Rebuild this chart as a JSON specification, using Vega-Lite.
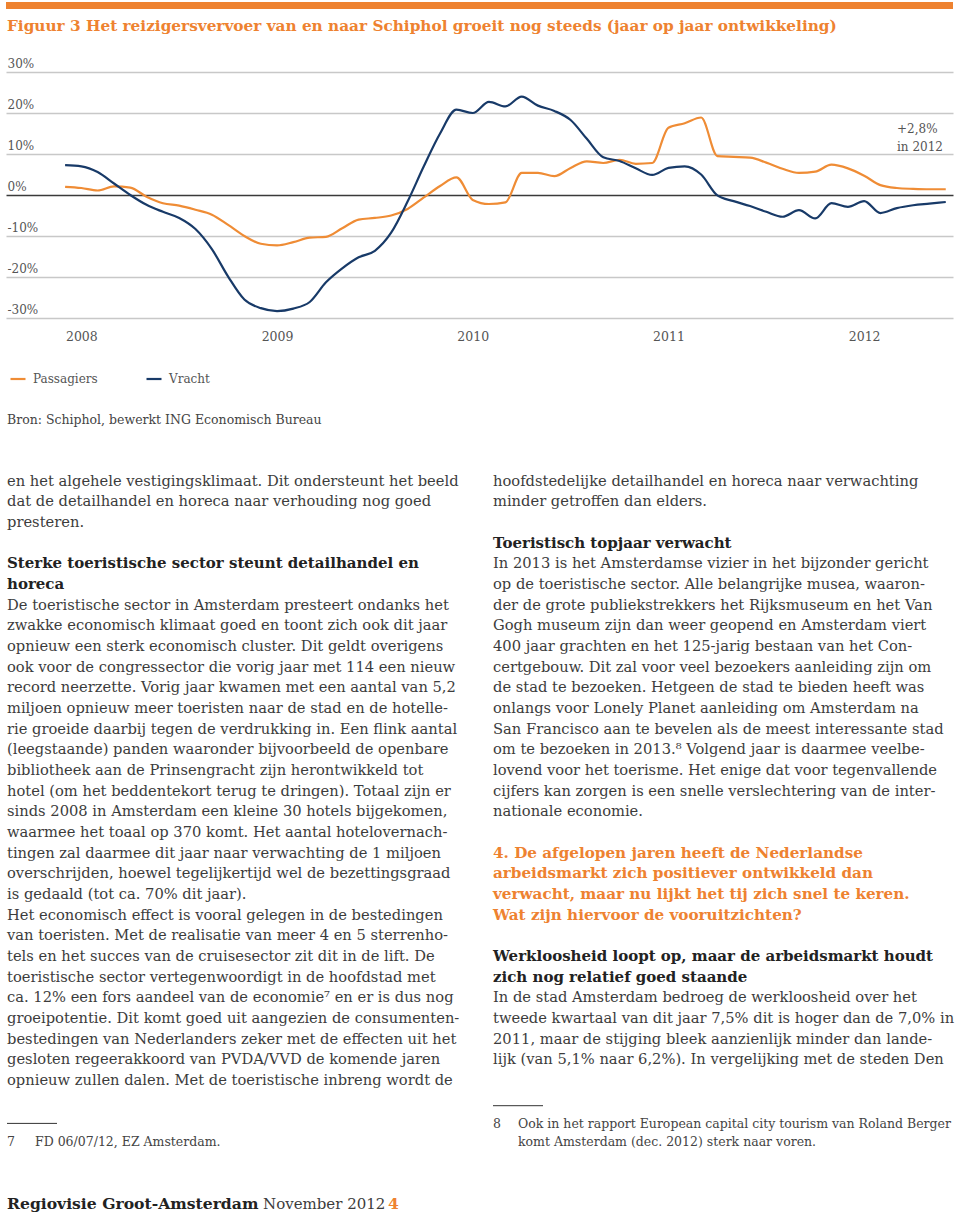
{
  "$schema": "https://vega.github.io/schema/vega-lite/v6.json",
  "width": 960,
  "height": 1215,
  "autosize": {"type": "none"},
  "padding": 0,
  "background": "white",
  "config": {"view": {"stroke": null}, "font": "DejaVu Serif"},
  "resolve": {"scale": {"x": "independent", "y": "independent", "color": "independent"}},
  "layer": [
    {
      "layer": [
        {
          "data": {"values": [
            {"t": 2007.917, "series": "Passagiers", "v": 2.0}, {"t": 2008.000, "series": "Passagiers", "v": 1.7},
            {"t": 2008.083, "series": "Passagiers", "v": 1.1}, {"t": 2008.167, "series": "Passagiers", "v": 2.1},
            {"t": 2008.250, "series": "Passagiers", "v": 1.8}, {"t": 2008.333, "series": "Passagiers", "v": -0.4},
            {"t": 2008.417, "series": "Passagiers", "v": -2.0}, {"t": 2008.500, "series": "Passagiers", "v": -2.6},
            {"t": 2008.583, "series": "Passagiers", "v": -3.6}, {"t": 2008.667, "series": "Passagiers", "v": -4.8},
            {"t": 2008.750, "series": "Passagiers", "v": -7.3}, {"t": 2008.833, "series": "Passagiers", "v": -10.0},
            {"t": 2008.917, "series": "Passagiers", "v": -11.9}, {"t": 2009.000, "series": "Passagiers", "v": -12.3},
            {"t": 2009.083, "series": "Passagiers", "v": -11.5}, {"t": 2009.167, "series": "Passagiers", "v": -10.4},
            {"t": 2009.250, "series": "Passagiers", "v": -10.2}, {"t": 2009.333, "series": "Passagiers", "v": -8.1},
            {"t": 2009.417, "series": "Passagiers", "v": -6.0}, {"t": 2009.500, "series": "Passagiers", "v": -5.6},
            {"t": 2009.583, "series": "Passagiers", "v": -5.0}, {"t": 2009.667, "series": "Passagiers", "v": -3.4},
            {"t": 2009.750, "series": "Passagiers", "v": -0.6}, {"t": 2009.833, "series": "Passagiers", "v": 2.2},
            {"t": 2009.917, "series": "Passagiers", "v": 4.3}, {"t": 2010.000, "series": "Passagiers", "v": -1.2},
            {"t": 2010.083, "series": "Passagiers", "v": -2.2}, {"t": 2010.167, "series": "Passagiers", "v": -1.8},
            {"t": 2010.250, "series": "Passagiers", "v": 5.4}, {"t": 2010.333, "series": "Passagiers", "v": 5.4},
            {"t": 2010.417, "series": "Passagiers", "v": 4.6}, {"t": 2010.500, "series": "Passagiers", "v": 6.6},
            {"t": 2010.583, "series": "Passagiers", "v": 8.2}, {"t": 2010.667, "series": "Passagiers", "v": 7.8},
            {"t": 2010.750, "series": "Passagiers", "v": 8.6}, {"t": 2010.833, "series": "Passagiers", "v": 7.6},
            {"t": 2010.917, "series": "Passagiers", "v": 7.8}, {"t": 2011.000, "series": "Passagiers", "v": 16.4},
            {"t": 2011.083, "series": "Passagiers", "v": 17.5}, {"t": 2011.167, "series": "Passagiers", "v": 18.9},
            {"t": 2011.250, "series": "Passagiers", "v": 9.5}, {"t": 2011.333, "series": "Passagiers", "v": 9.3},
            {"t": 2011.417, "series": "Passagiers", "v": 9.1}, {"t": 2011.500, "series": "Passagiers", "v": 7.9},
            {"t": 2011.583, "series": "Passagiers", "v": 6.4}, {"t": 2011.667, "series": "Passagiers", "v": 5.4},
            {"t": 2011.750, "series": "Passagiers", "v": 5.7}, {"t": 2011.833, "series": "Passagiers", "v": 7.4},
            {"t": 2011.917, "series": "Passagiers", "v": 6.5}, {"t": 2012.000, "series": "Passagiers", "v": 4.7},
            {"t": 2012.083, "series": "Passagiers", "v": 2.4}, {"t": 2012.167, "series": "Passagiers", "v": 1.7},
            {"t": 2012.250, "series": "Passagiers", "v": 1.5}, {"t": 2012.333, "series": "Passagiers", "v": 1.4},
            {"t": 2012.417, "series": "Passagiers", "v": 1.4},
            {"t": 2007.917, "series": "Vracht", "v": 7.3}, {"t": 2008.000, "series": "Vracht", "v": 7.0},
            {"t": 2008.083, "series": "Vracht", "v": 5.6}, {"t": 2008.167, "series": "Vracht", "v": 2.8},
            {"t": 2008.250, "series": "Vracht", "v": 0.0}, {"t": 2008.333, "series": "Vracht", "v": -2.4},
            {"t": 2008.417, "series": "Vracht", "v": -4.1}, {"t": 2008.500, "series": "Vracht", "v": -5.6},
            {"t": 2008.583, "series": "Vracht", "v": -8.3}, {"t": 2008.667, "series": "Vracht", "v": -13.2},
            {"t": 2008.750, "series": "Vracht", "v": -19.9}, {"t": 2008.833, "series": "Vracht", "v": -25.5},
            {"t": 2008.917, "series": "Vracht", "v": -27.6}, {"t": 2009.000, "series": "Vracht", "v": -28.3},
            {"t": 2009.083, "series": "Vracht", "v": -27.7}, {"t": 2009.167, "series": "Vracht", "v": -26.1},
            {"t": 2009.250, "series": "Vracht", "v": -21.3}, {"t": 2009.333, "series": "Vracht", "v": -17.9},
            {"t": 2009.417, "series": "Vracht", "v": -15.2}, {"t": 2009.500, "series": "Vracht", "v": -13.6},
            {"t": 2009.583, "series": "Vracht", "v": -9.2}, {"t": 2009.667, "series": "Vracht", "v": -1.6},
            {"t": 2009.750, "series": "Vracht", "v": 7.0}, {"t": 2009.833, "series": "Vracht", "v": 15.0},
            {"t": 2009.917, "series": "Vracht", "v": 20.8}, {"t": 2010.000, "series": "Vracht", "v": 20.0},
            {"t": 2010.083, "series": "Vracht", "v": 22.7}, {"t": 2010.167, "series": "Vracht", "v": 21.6},
            {"t": 2010.250, "series": "Vracht", "v": 24.0}, {"t": 2010.333, "series": "Vracht", "v": 21.8},
            {"t": 2010.417, "series": "Vracht", "v": 20.5}, {"t": 2010.500, "series": "Vracht", "v": 18.3},
            {"t": 2010.583, "series": "Vracht", "v": 13.7}, {"t": 2010.667, "series": "Vracht", "v": 9.2},
            {"t": 2010.750, "series": "Vracht", "v": 8.3}, {"t": 2010.833, "series": "Vracht", "v": 6.5},
            {"t": 2010.917, "series": "Vracht", "v": 4.9}, {"t": 2011.000, "series": "Vracht", "v": 6.6},
            {"t": 2011.083, "series": "Vracht", "v": 7.0}, {"t": 2011.167, "series": "Vracht", "v": 5.0},
            {"t": 2011.250, "series": "Vracht", "v": -0.1}, {"t": 2011.333, "series": "Vracht", "v": -1.5},
            {"t": 2011.417, "series": "Vracht", "v": -2.7}, {"t": 2011.500, "series": "Vracht", "v": -4.1},
            {"t": 2011.583, "series": "Vracht", "v": -5.3}, {"t": 2011.667, "series": "Vracht", "v": -3.7},
            {"t": 2011.750, "series": "Vracht", "v": -5.7}, {"t": 2011.833, "series": "Vracht", "v": -2.0},
            {"t": 2011.917, "series": "Vracht", "v": -2.9}, {"t": 2012.000, "series": "Vracht", "v": -1.5},
            {"t": 2012.083, "series": "Vracht", "v": -4.4}, {"t": 2012.167, "series": "Vracht", "v": -3.2},
            {"t": 2012.250, "series": "Vracht", "v": -2.5}, {"t": 2012.333, "series": "Vracht", "v": -2.1},
            {"t": 2012.417, "series": "Vracht", "v": -1.7}
          ]},
          "mark": {"type": "line", "interpolate": "monotone", "strokeWidth": 2.2},
          "encoding": {
            "x": {"field": "t", "type": "quantitative",
              "scale": {"domain": [2007.615, 2012.454], "range": [6, 953], "nice": false, "zero": false},
              "axis": {"values": [2008, 2009, 2010, 2011, 2012], "format": "d", "orient": "bottom", "offset": -897,
                "domain": false, "ticks": false, "tickSize": 0, "grid": false, "labelPadding": 22,
                "labelBaseline": "alphabetic", "labelFont": "DejaVu Serif", "labelFontSize": 12.5,
                "labelColor": "#555555", "labelFlush": false, "labelOverlap": false, "title": null}},
            "y": {"field": "v", "type": "quantitative",
              "scale": {"domain": [-30, 30], "range": [318, 72], "nice": false, "zero": false},
              "axis": {"values": [-30, -20, -10, 0, 10, 20, 30], "orient": "left", "domain": false, "ticks": false,
                "tickSize": 0, "grid": true,
                "gridColor": {"condition": {"test": "datum.value === 0", "value": "#3a3a3a"}, "value": "#c8c8c8"},
                "gridWidth": 1.3, "labelAlign": "left", "labelBaseline": "alphabetic", "labelPadding": -7,
                "labelOffset": -5, "labelExpr": "datum.value + '%'", "labelFont": "DejaVu Serif", "labelFontSize": 12,
                "labelColor": "#555555", "labelOverlap": false, "labelFlush": false, "title": null}},
            "color": {"field": "series", "type": "nominal",
              "scale": {"domain": ["Passagiers", "Vracht"], "range": ["#EF8C35", "#183A68"]},
              "legend": {"orient": "none", "legendX": 9, "legendY": 370, "direction": "horizontal",
                "symbolType": "stroke", "symbolSize": 225, "symbolStrokeWidth": 2.2, "labelFont": "DejaVu Serif",
                "labelFontSize": 12, "labelColor": "#555555", "labelOffset": 6, "columnPadding": 44,
                "title": null, "padding": 0}}
          }
        },
        {
          "data": {"values": [{"t": 2012.168, "v": 15.2, "label": "+2,8%\nin 2012"}]},
          "mark": {"type": "text", "align": "left", "baseline": "alphabetic", "lineBreak": "\n", "lineHeight": 18,
            "fontSize": 12, "font": "DejaVu Serif", "color": "#555555"},
          "encoding": {
            "x": {"field": "t", "type": "quantitative"},
            "y": {"field": "v", "type": "quantitative"},
            "text": {"field": "label"}
          }
        }
      ]
    },
    {
      "data": {"values": [
        {"kind": "bar", "col": "left", "col2": "right", "line": -19, "text": ""},
        {"kind": "title", "col": "left", "line": -18, "text": "Figuur 3 Het reizigersvervoer van en naar Schiphol groeit nog steeds (jaar op jaar ontwikkeling)"},
        {"kind": "source", "col": "left", "line": 1, "text": "Bron: Schiphol, bewerkt ING Economisch Bureau"},
        {"kind": "body", "col": "left", "line": 4, "text": "en het algehele vestigingsklimaat. Dit ondersteunt het beeld"},
        {"kind": "body", "col": "left", "line": 5, "text": "dat de detailhandel en horeca naar verhouding nog goed"},
        {"kind": "body", "col": "left", "line": 6, "text": "presteren."},
        {"kind": "heading", "col": "left", "line": 8, "text": "Sterke toeristische sector steunt detailhandel en"},
        {"kind": "heading", "col": "left", "line": 9, "text": "horeca"},
        {"kind": "body", "col": "left", "line": 10, "text": "De toeristische sector in Amsterdam presteert ondanks het"},
        {"kind": "body", "col": "left", "line": 11, "text": "zwakke economisch klimaat goed en toont zich ook dit jaar"},
        {"kind": "body", "col": "left", "line": 12, "text": "opnieuw een sterk economisch cluster. Dit geldt overigens"},
        {"kind": "body", "col": "left", "line": 13, "text": "ook voor de congressector die vorig jaar met 114 een nieuw"},
        {"kind": "body", "col": "left", "line": 14, "text": "record neerzette. Vorig jaar kwamen met een aantal van 5,2"},
        {"kind": "body", "col": "left", "line": 15, "text": "miljoen opnieuw meer toeristen naar de stad en de hotelle-"},
        {"kind": "body", "col": "left", "line": 16, "text": "rie groeide daarbij tegen de verdrukking in. Een flink aantal"},
        {"kind": "body", "col": "left", "line": 17, "text": "(leegstaande) panden waaronder bijvoorbeeld de openbare"},
        {"kind": "body", "col": "left", "line": 18, "text": "bibliotheek aan de Prinsengracht zijn herontwikkeld tot"},
        {"kind": "body", "col": "left", "line": 19, "text": "hotel (om het beddentekort terug te dringen). Totaal zijn er"},
        {"kind": "body", "col": "left", "line": 20, "text": "sinds 2008 in Amsterdam een kleine 30 hotels bijgekomen,"},
        {"kind": "body", "col": "left", "line": 21, "text": "waarmee het toaal op 370 komt. Het aantal hotelovernach-"},
        {"kind": "body", "col": "left", "line": 22, "text": "tingen zal daarmee dit jaar naar verwachting de 1 miljoen"},
        {"kind": "body", "col": "left", "line": 23, "text": "overschrijden, hoewel tegelijkertijd wel de bezettingsgraad"},
        {"kind": "body", "col": "left", "line": 24, "text": "is gedaald (tot ca. 70% dit jaar)."},
        {"kind": "body", "col": "left", "line": 25, "text": "Het economisch effect is vooral gelegen in de bestedingen"},
        {"kind": "body", "col": "left", "line": 26, "text": "van toeristen. Met de realisatie van meer 4 en 5 sterrenho-"},
        {"kind": "body", "col": "left", "line": 27, "text": "tels en het succes van de cruisesector zit dit in de lift. De"},
        {"kind": "body", "col": "left", "line": 28, "text": "toeristische sector vertegenwoordigt in de hoofdstad met"},
        {"kind": "body", "col": "left", "line": 29, "text": "ca. 12% een fors aandeel van de economie⁷ en er is dus nog"},
        {"kind": "body", "col": "left", "line": 30, "text": "groeipotentie. Dit komt goed uit aangezien de consumenten-"},
        {"kind": "body", "col": "left", "line": 31, "text": "bestedingen van Nederlanders zeker met de effecten uit het"},
        {"kind": "body", "col": "left", "line": 32, "text": "gesloten regeerakkoord van PVDA/VVD de komende jaren"},
        {"kind": "body", "col": "left", "line": 33, "text": "opnieuw zullen dalen. Met de toeristische inbreng wordt de"},
        {"kind": "body", "col": "right", "line": 4, "text": "hoofdstedelijke detailhandel en horeca naar verwachting"},
        {"kind": "body", "col": "right", "line": 5, "text": "minder getroffen dan elders."},
        {"kind": "heading", "col": "right", "line": 7, "text": "Toeristisch topjaar verwacht"},
        {"kind": "body", "col": "right", "line": 8, "text": "In 2013 is het Amsterdamse vizier in het bijzonder gericht"},
        {"kind": "body", "col": "right", "line": 9, "text": "op de toeristische sector. Alle belangrijke musea, waaron-"},
        {"kind": "body", "col": "right", "line": 10, "text": "der de grote publiekstrekkers het Rijksmuseum en het Van"},
        {"kind": "body", "col": "right", "line": 11, "text": "Gogh museum zijn dan weer geopend en Amsterdam viert"},
        {"kind": "body", "col": "right", "line": 12, "text": "400 jaar grachten en het 125-jarig bestaan van het Con-"},
        {"kind": "body", "col": "right", "line": 13, "text": "certgebouw. Dit zal voor veel bezoekers aanleiding zijn om"},
        {"kind": "body", "col": "right", "line": 14, "text": "de stad te bezoeken. Hetgeen de stad te bieden heeft was"},
        {"kind": "body", "col": "right", "line": 15, "text": "onlangs voor Lonely Planet aanleiding om Amsterdam na"},
        {"kind": "body", "col": "right", "line": 16, "text": "San Francisco aan te bevelen als de meest interessante stad"},
        {"kind": "body", "col": "right", "line": 17, "text": "om te bezoeken in 2013.⁸ Volgend jaar is daarmee veelbe-"},
        {"kind": "body", "col": "right", "line": 18, "text": "lovend voor het toerisme. Het enige dat voor tegenvallende"},
        {"kind": "body", "col": "right", "line": 19, "text": "cijfers kan zorgen is een snelle verslechtering van de inter-"},
        {"kind": "body", "col": "right", "line": 20, "text": "nationale economie."},
        {"kind": "question", "col": "right", "line": 22, "text": "4. De afgelopen jaren heeft de Nederlandse"},
        {"kind": "question", "col": "right", "line": 23, "text": "arbeidsmarkt zich positiever ontwikkeld dan"},
        {"kind": "question", "col": "right", "line": 24, "text": "verwacht, maar nu lijkt het tij zich snel te keren."},
        {"kind": "question", "col": "right", "line": 25, "text": "Wat zijn hiervoor de vooruitzichten?"},
        {"kind": "heading", "col": "right", "line": 27, "text": "Werkloosheid loopt op, maar de arbeidsmarkt houdt"},
        {"kind": "heading", "col": "right", "line": 28, "text": "zich nog relatief goed staande"},
        {"kind": "body", "col": "right", "line": 29, "text": "In de stad Amsterdam bedroeg de werkloosheid over het"},
        {"kind": "body", "col": "right", "line": 30, "text": "tweede kwartaal van dit jaar 7,5% dit is hoger dan de 7,0% in"},
        {"kind": "body", "col": "right", "line": 31, "text": "2011, maar de stijging bleek aanzienlijk minder dan lande-"},
        {"kind": "body", "col": "right", "line": 32, "text": "lijk (van 5,1% naar 6,2%). In vergelijking met de steden Den"},
        {"kind": "footer1", "col": "left", "line": 39, "text": "Regiovisie Groot-Amsterdam"},
        {"kind": "footer2", "col": "left", "line": 39, "text": "November 2012"},
        {"kind": "footer3", "col": "left", "line": 39, "text": "4"}
      ]},
      "encoding": {
        "x": {"field": "col", "type": "nominal", "scale": {"type": "point", "domain": ["left", "right"], "range": [7, 493], "padding": 0}, "axis": null},
        "y": {"field": "line", "type": "quantitative", "scale": {"domain": [1, 39], "range": [423.7, 1208.8], "nice": false, "zero": false}, "axis": null}
      },
      "layer": [
        {
          "transform": [{"filter": "datum.kind === 'bar'"}],
          "mark": {"type": "rule", "color": "#EE8230", "strokeWidth": 7, "strokeCap": "butt", "xOffset": -1, "x2Offset": 460, "yOffset": -5},
          "encoding": {"x2": {"field": "col2"}}
        },
        {
          "transform": [{"filter": "datum.kind === 'title'"}],
          "mark": {"type": "text", "align": "left", "baseline": "alphabetic", "font": "DejaVu Serif", "fontWeight": "bold", "fontSize": 15.3, "color": "#EE8230"},
          "encoding": {"text": {"field": "text"}}
        },
        {
          "transform": [{"filter": "datum.kind === 'source'"}],
          "mark": {"type": "text", "align": "left", "baseline": "alphabetic", "font": "DejaVu Serif", "fontSize": 12.5, "color": "#444444"},
          "encoding": {"text": {"field": "text"}}
        },
        {
          "transform": [{"filter": "datum.kind === 'body'"}],
          "mark": {"type": "text", "align": "left", "baseline": "alphabetic", "font": "DejaVu Serif", "fontSize": 14.7, "color": "#3c3c3c"},
          "encoding": {"text": {"field": "text"}}
        },
        {
          "transform": [{"filter": "datum.kind === 'heading'"}],
          "mark": {"type": "text", "align": "left", "baseline": "alphabetic", "font": "DejaVu Serif", "fontWeight": "bold", "fontSize": 15, "color": "#222222"},
          "encoding": {"text": {"field": "text"}}
        },
        {
          "transform": [{"filter": "datum.kind === 'question'"}],
          "mark": {"type": "text", "align": "left", "baseline": "alphabetic", "font": "DejaVu Serif", "fontWeight": "bold", "fontSize": 15.2, "color": "#EE8230"},
          "encoding": {"text": {"field": "text"}}
        },
        {
          "transform": [{"filter": "datum.kind === 'footer1'"}],
          "mark": {"type": "text", "align": "left", "baseline": "alphabetic", "font": "DejaVu Serif", "fontWeight": "bold", "fontSize": 15.6, "color": "#222222"},
          "encoding": {"text": {"field": "text"}}
        },
        {
          "transform": [{"filter": "datum.kind === 'footer2'"}],
          "mark": {"type": "text", "align": "left", "baseline": "alphabetic", "font": "DejaVu Serif", "fontSize": 15, "color": "#3c3c3c", "dx": 256},
          "encoding": {"text": {"field": "text"}}
        },
        {
          "transform": [{"filter": "datum.kind === 'footer3'"}],
          "mark": {"type": "text", "align": "left", "baseline": "alphabetic", "font": "DejaVu Serif", "fontWeight": "bold", "fontSize": 15.6, "color": "#EE8230", "dx": 381},
          "encoding": {"text": {"field": "text"}}
        }
      ]
    },
    {
      "data": {"values": [
        {"kind": "rule", "col": "left", "fline": 2, "num": "", "text": ""},
        {"kind": "rule", "col": "right", "fline": 1, "num": "", "text": ""},
        {"kind": "note", "col": "left", "fline": 2, "num": "7", "text": "FD 06/07/12, EZ Amsterdam."},
        {"kind": "note", "col": "right", "fline": 1, "num": "8", "text": "Ook in het rapport European capital city tourism van Roland Berger"},
        {"kind": "note", "col": "right", "fline": 2, "num": "", "text": "komt Amsterdam (dec. 2012) sterk naar voren."}
      ]},
      "encoding": {
        "x": {"field": "col", "type": "nominal", "scale": {"type": "point", "domain": ["left", "right"], "range": [7, 493], "padding": 0}, "axis": null},
        "y": {"field": "fline", "type": "quantitative", "scale": {"domain": [1, 2], "range": [1128.3, 1146], "nice": false, "zero": false}, "axis": null}
      },
      "layer": [
        {
          "transform": [{"filter": "datum.kind === 'rule'"}],
          "mark": {"type": "rule", "color": "#333333", "strokeWidth": 1, "x2Offset": 50, "yOffset": -22.6},
          "encoding": {"x2": {"field": "col"}}
        },
        {
          "transform": [{"filter": "datum.kind === 'note'"}],
          "mark": {"type": "text", "align": "left", "baseline": "alphabetic", "font": "DejaVu Serif", "fontSize": 12.5, "color": "#444444"},
          "encoding": {"text": {"field": "num"}}
        },
        {
          "transform": [{"filter": "datum.kind === 'note' && datum.col === 'left'"}],
          "mark": {"type": "text", "align": "left", "baseline": "alphabetic", "font": "DejaVu Serif", "fontSize": 12.5, "color": "#444444", "dx": 28},
          "encoding": {"text": {"field": "text"}}
        },
        {
          "transform": [{"filter": "datum.kind === 'note' && datum.col === 'right'"}],
          "mark": {"type": "text", "align": "left", "baseline": "alphabetic", "font": "DejaVu Serif", "fontSize": 12.5, "color": "#444444", "dx": 25},
          "encoding": {"text": {"field": "text"}}
        }
      ]
    }
  ]
}
